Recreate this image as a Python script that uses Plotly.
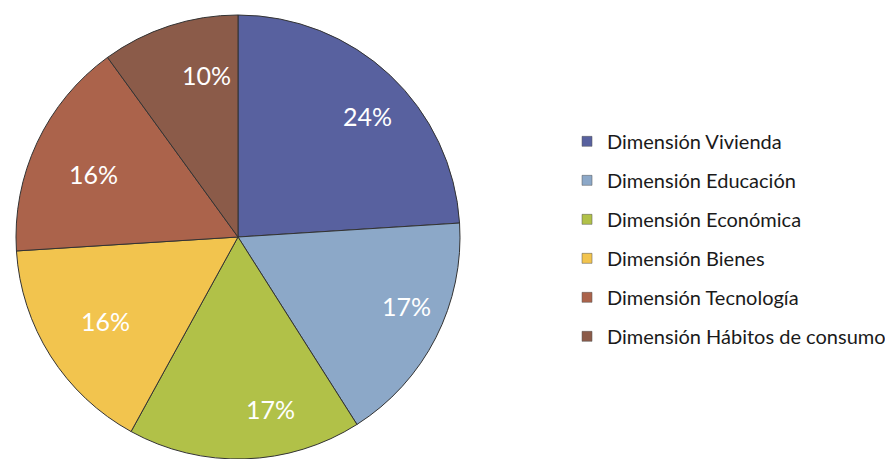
import math
import plotly.graph_objects as go

labels = [
    "Dimensión Vivienda",
    "Dimensión Educación",
    "Dimensión Económica",
    "Dimensión Bienes",
    "Dimensión Tecnología",
    "Dimensión Hábitos de consumo",
]
values = [24, 17, 17, 16, 16, 10]
colors = ["#58619f", "#8ca8c8", "#b1c148", "#f2c44e", "#ab634b", "#8b5b49"]

W, H = 893, 459
# pie centre and radius in page pixels (plotly div sits 8px in from the page corner)
cx, cy, R = 230, 229, 222

fig = go.Figure()
fig.add_trace(
    go.Pie(
        labels=labels,
        values=values,
        sort=False,
        direction="clockwise",
        rotation=0,
        marker=dict(colors=colors, line=dict(color="#333333", width=1)),
        textinfo="none",
        showlegend=False,
        domain=dict(x=[(cx - R) / W, (cx + R) / W],
                    y=[1 - (cy + R) / H, 1 - (cy - R) / H]),
        hoverinfo="label+percent",
    )
)

# percentage labels placed out toward the rim, like the original
total = sum(values)
cum = 0
for v in values:
    mid = (cum + v / 2) / total * 2 * math.pi
    cum += v
    r = 0.85 * R
    fig.add_annotation(
        x=(cx + r * math.sin(mid)) / W,
        y=1 - (cy - r * math.cos(mid)) / H,
        xref="paper", yref="paper",
        text=f"{round(v / total * 100)}%",
        showarrow=False,
        font=dict(family="Lato, Open Sans, sans-serif", size=25, color="white"),
    )

# legend entries
for lab, col in zip(labels, colors):
    fig.add_trace(
        go.Scatter(
            x=[None], y=[None],
            mode="markers",
            name=lab,
            legendgroup=lab,
            marker=dict(symbol="square", size=10, color=col,
                        line=dict(color="#555555", width=0.5)),
        )
    )

fig.update_layout(
    width=W,
    height=H,
    margin=dict(l=0, r=0, t=0, b=0),
    paper_bgcolor="white",
    plot_bgcolor="white",
    xaxis=dict(visible=False),
    yaxis=dict(visible=False),
    legend=dict(
        x=0.626,
        y=0.752,
        xanchor="left",
        yanchor="top",
        font=dict(family="Lato, Open Sans, sans-serif", size=20, color="#1a1a1a"),
        tracegroupgap=10,
        itemwidth=30,
    ),
)

fig.write_html("out.html")
